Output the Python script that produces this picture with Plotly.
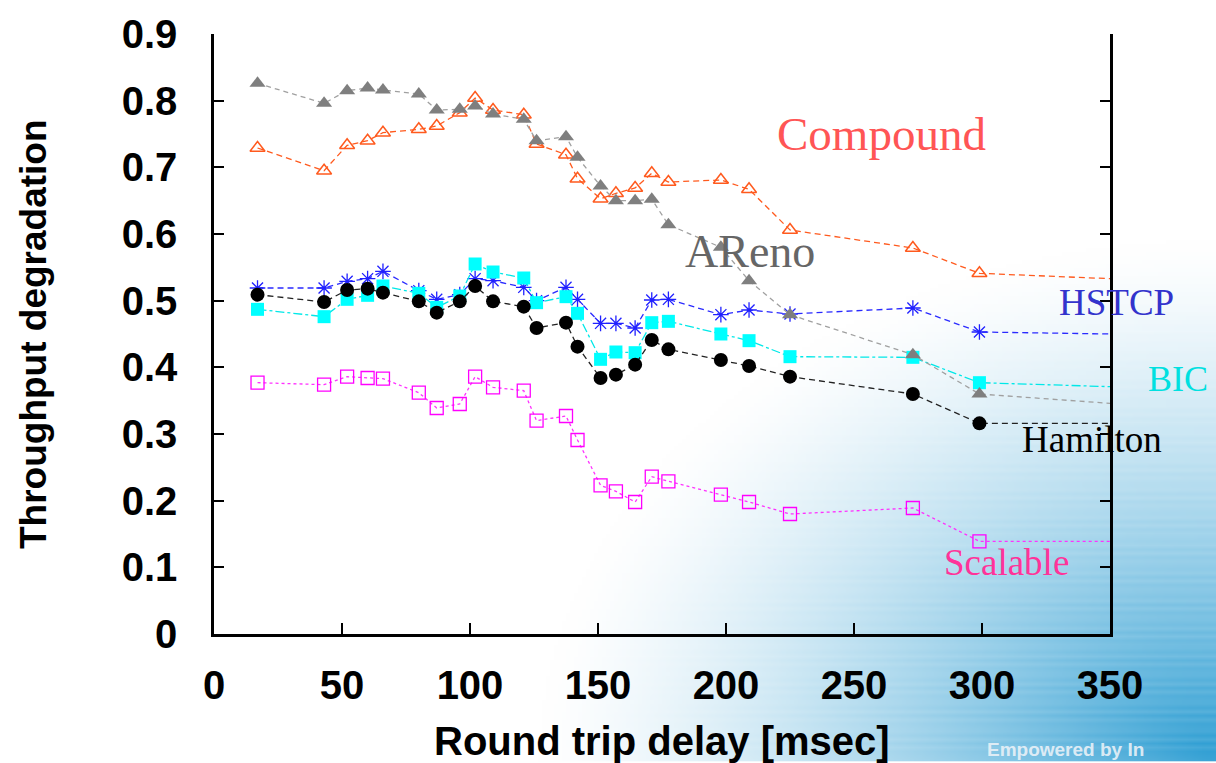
import zlib, struct, base64
import numpy as np
import plotly.graph_objects as go

# ---------------- data ----------------
rtt = [17, 43, 52, 60, 66, 80, 87, 96, 102, 109, 121, 126, 137.5, 142, 151, 157,
       164.5, 171, 177.5, 198, 209, 225, 273, 299, 350]

areno = [0.826, 0.796, 0.815, 0.819, 0.816, 0.810, 0.786, 0.787, 0.792, 0.780,
         0.772, 0.740, 0.746, 0.715, 0.672, 0.650, 0.650, 0.652, 0.614, 0.580,
         0.530, 0.479, 0.419, 0.360, 0.346]
compound = [0.729, 0.695, 0.733, 0.740, 0.752, 0.757, 0.762, 0.782, 0.804, 0.786,
            0.779, 0.735, 0.719, 0.683, 0.653, 0.661, 0.669, 0.691, 0.678, 0.681,
            0.667, 0.606, 0.579, 0.541, 0.533]
hstcp = [0.519, 0.519, 0.529, 0.533, 0.544, 0.515, 0.502, 0.509, 0.533, 0.530,
         0.520, 0.500, 0.520, 0.502, 0.466, 0.466, 0.459, 0.501, 0.502, 0.479,
         0.486, 0.480, 0.489, 0.453, 0.450]
bic = [0.487, 0.476, 0.502, 0.508, 0.522, 0.511, 0.490, 0.507, 0.555, 0.543,
       0.534, 0.497, 0.506, 0.481, 0.412, 0.423, 0.422, 0.467, 0.469, 0.450,
       0.440, 0.416, 0.415, 0.377, 0.371]
hamilton = [0.509, 0.498, 0.516, 0.518, 0.512, 0.499, 0.482, 0.499, 0.522, 0.499,
            0.491, 0.459, 0.467, 0.431, 0.384, 0.389, 0.404, 0.441, 0.427, 0.411,
            0.402, 0.386, 0.360, 0.316, 0.316]
scalable = [0.377, 0.374, 0.386, 0.384, 0.383, 0.362, 0.339, 0.345, 0.386, 0.370,
            0.365, 0.320, 0.327, 0.291, 0.223, 0.214, 0.198, 0.236, 0.229, 0.209,
            0.198, 0.180, 0.189, 0.139, 0.139]

x_ticks = [0, 50, 100, 150, 200, 250, 300, 350]
y_ticks = [0, 0.1, 0.2, 0.3, 0.4, 0.5, 0.6, 0.7, 0.8, 0.9]
y_tick_text = ["0", "0.1", "0.2", "0.3", "0.4", "0.5", "0.6", "0.7", "0.8", "0.9"]

# ---------------- background picture (slide gradient) ----------------
W, H = 1216, 763
sx, sy = 4, 4
gw, gh = W // sx, H // sy
xs = (np.arange(gw) + 0.5) * sx
ys = (np.arange(gh) + 0.5) * sy
X, Y = np.meshgrid(xs, ys)
d = np.sqrt(((W - X) / 1.35) ** 2 + ((H - Y) * 0.95) ** 2)
a = np.clip(1 - d / 500.0, 0, 1) ** 1.35
a = a * (1 + 0.06 * np.sin(Y * 0.9))
a = np.clip(a, 0, 1)
base = np.array([50, 160, 212], dtype=float)
img = (255 * (1 - a[..., None]) + base * a[..., None]).astype(np.uint8)


def make_png(rgb):
    h, w, _ = rgb.shape
    raw = b"".join(b"\x00" + rgb[i].tobytes() for i in range(h))

    def chunk(t, dd):
        return (struct.pack(">I", len(dd)) + t + dd +
                struct.pack(">I", zlib.crc32(t + dd) & 0xffffffff))
    return (b"\x89PNG\r\n\x1a\n" +
            chunk(b"IHDR", struct.pack(">IIBBBBB", w, h, 8, 2, 0, 0, 0)) +
            chunk(b"IDAT", zlib.compress(raw, 9)) + chunk(b"IEND", b""))


bg_uri = "data:image/png;base64," + base64.b64encode(make_png(img)).decode()

# ---------------- figure ----------------
L, R, T, B = 214, 106, 26, 129
PW, PH = W - L - R, H - T - B

fig = go.Figure()

n = len(rtt)
msize = lambda s: [s] * (n - 1) + [0]


def add(y, name, lcolor, dash, mcolor, symbol, size, mline=None):
    marker = dict(color=mcolor, symbol=symbol, size=msize(size), opacity=1)
    marker["line"] = mline if mline else dict(width=0, color=mcolor)
    fig.add_trace(go.Scatter(x=rtt, y=y, name=name, mode="lines+markers",
                             opacity=1,
                             line=dict(color=lcolor, width=1.3, dash=dash),
                             marker=marker, cliponaxis=True))


add(hstcp, "HSTCP", "#2a2aff", "6px,4px", "#2020ff", "asterisk-open", 13,
    dict(color="#2020ff", width=1.3))
add(bic, "BIC", "#00e8e8", "dashdot", "#00ffff", "square", 13)
add(hamilton, "Hamilton", "#222222", "6px,4px", "#000000", "circle", 14)
add(scalable, "Scalable", "#ff30ff", "dot", "#ff00ff", "square-open", 13,
    dict(color="#ff00ff", width=1.3))
add(compound, "Compound", "#ff5a1e", "6px,4px", "#ff5a1e", "triangle-up-open", 13,
    dict(color="#ff5a1e", width=1.5))
add(areno, "AReno", "#a0a0a0", "5px,4px", "#7f7f7f", "triangle-up", 14)

label_font = "Liberation Serif, Times New Roman, serif"
px_x = lambda px: (px - L) / PW
px_y = lambda py: (PH + T - py) / PH
annos = [
    dict(text="Compound", px=881, py=127, color="#ff5555", size=47, xanchor="center"),
    dict(text="AReno", px=750, py=246, color="#666666", size=46, xanchor="center"),
    dict(text="HSTCP", px=1057, py=298, color="#3333cc", size=37, xanchor="left"),
    dict(text="BIC", px=1146, py=376, color="#00e0e0", size=36, xanchor="left"),
    dict(text="Hamilton", px=1020, py=437, color="#000000", size=37, xanchor="left"),
    dict(text="Scalable", px=942, py=562, color="#ff3399", size=37, xanchor="left"),
]
for an in annos:
    fig.add_annotation(text=an["text"], x=px_x(an["px"]), y=px_y(an["py"]),
                       xref="paper", yref="paper",
                       showarrow=False, xanchor=an["xanchor"], yanchor="middle",
                       font=dict(family=label_font, size=an["size"], color=an["color"]))

# axis titles
fig.add_annotation(text="Round trip delay [msec]", xref="paper", yref="paper",
                   x=0.5, y=px_y(742), showarrow=False,
                   xanchor="center", yanchor="middle",
                   font=dict(family="Liberation Sans, Arial", size=40, color="black",
                             weight="bold"))
fig.add_annotation(text="Throughput degradation", xref="paper", yref="paper",
                   x=px_x(33), y=0.5, showarrow=False, textangle=-90,
                   xanchor="center", yanchor="middle",
                   font=dict(family="Liberation Sans, Arial", size=37, color="black",
                             weight="bold"))
# slide watermark
fig.add_annotation(text="Empowered by In", xref="paper", yref="paper",
                   x=px_x(985), y=px_y(751), showarrow=False,
                   xanchor="left", yanchor="middle",
                   font=dict(family="Liberation Sans, Arial", size=19,
                             color="rgba(235,242,248,0.9)", weight="bold"))

fig.add_layout_image(dict(source=bg_uri, xref="paper", yref="paper",
                          x=-L / PW, y=1 + T / PH, sizex=W / PW, sizey=H / PH,
                          sizing="stretch", xanchor="left", yanchor="top",
                          layer="below"))

tickfont = dict(family="Liberation Sans, Arial", size=40, color="black", weight="bold")
fig.update_layout(
    width=W, height=H,
    margin=dict(l=L, r=R, t=T, b=B),
    paper_bgcolor="white", plot_bgcolor="rgba(0,0,0,0)",
    showlegend=False,
    xaxis=dict(range=[0, 350], tickvals=x_ticks, ticks="inside", ticklen=11,
               tickwidth=2, tickcolor="black", showline=True, linewidth=2.5,
               linecolor="black", mirror=False, showgrid=False, zeroline=False,
               tickfont=tickfont, ticklabelstandoff=14),
    yaxis=dict(range=[0, 0.9], tickvals=y_ticks, ticktext=y_tick_text,
               ticks="inside", ticklen=10, tickwidth=2, tickcolor="black",
               showline=True, linewidth=2.5, linecolor="black", mirror="ticks",
               showgrid=False, zeroline=False, tickfont=tickfont,
               ticklabelstandoff=26),
)

fig.write_html("out.html")
